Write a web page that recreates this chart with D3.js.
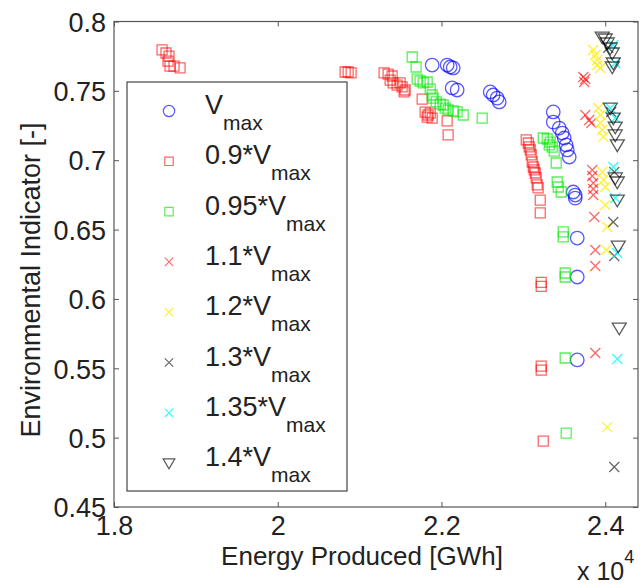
<!DOCTYPE html>
<html><head><meta charset="utf-8">
<script src="https://cdn.jsdelivr.net/npm/d3@7"></script>
<style>body{margin:0;background:#fff}svg{display:block}text{font-family:"Liberation Sans",Arial,sans-serif;fill:#222}</style>
</head><body><svg id="c" width="643" height="584"></svg>
<script>
// ---- data (x in GWh, y = environmental indicator) ----
const xTicks = [18000, 20000, 22000, 24000];
const yTicks = [0.45, 0.5, 0.55, 0.6, 0.65, 0.7, 0.75, 0.8];
const seriesNames = ["V", "0.9*V", "0.95*V", "1.1*V", "1.2*V", "1.3*V", "1.35*V", "1.4*V"];
const sVmax = [[21886,0.7686],[22069,0.7686],[22106,0.7672],[22143,0.7665],[22130,0.7521],[22191,0.7506],
  [22595,0.7492],[22631,0.7470],[22680,0.7448],[22705,0.7420],[23365,0.7348],[23365,0.7275],[23438,0.7232],
  [23475,0.7196],[23499,0.7160],[23523,0.7110],[23536,0.7074],[23560,0.7023],[23609,0.6771],[23633,0.6749],
  [23633,0.6727],[23658,0.6439],[23658,0.6158],[23658,0.5560]];
const s090 = [[18587,0.7795],[18635,0.7773],[18672,0.7751],[18660,0.7715],[18684,0.7679],[18733,0.7679],[18807,0.7665],
  [20823,0.7636],[20860,0.7636],[20896,0.7629],[21299,0.7629],[21348,0.7621],[21397,0.7607],[21373,0.7578],
  [21409,0.7557],[21458,0.7542],[21495,0.7557],[21519,0.7528],[21556,0.7506],[21544,0.7492],[21764,0.7441],
  [21800,0.7347],[21837,0.7326],[21825,0.7311],[21886,0.7304],[21862,0.7340],[22069,0.7283],[22081,0.7182],
  [23035,0.7146],[23060,0.7124],[23071,0.7096],[23084,0.7074],[23096,0.7038],[23108,0.6987],[23121,0.6951],
  [23133,0.6930],[23145,0.6908],[23157,0.6872],[23169,0.6822],[23181,0.6800],[23206,0.6713],[23206,0.6620],
  [23218,0.6120],[23218,0.6090],[23218,0.5516],[23218,0.5487],[23243,0.4975]];
const s095 = [[21642,0.7744],[21690,0.7672],[21703,0.7585],[21739,0.7571],[21776,0.7557],[21825,0.7564],[21862,0.7513],
  [21886,0.7470],[21898,0.7448],[21935,0.7420],[21984,0.7405],[22020,0.7398],[22045,0.7376],[22081,0.7362],
  [22143,0.7355],[22191,0.7348],[22265,0.7326],[22497,0.7304],
  [23243,0.7160],[23291,0.7153],[23316,0.7110],[23328,0.7131],[23352,0.7095],[23377,0.7066],[23401,0.6980],
  [23413,0.6843],[23426,0.6807],[23462,0.6771],[23487,0.6483],[23487,0.6447],[23511,0.6187],[23511,0.6158],
  [23511,0.5574],[23523,0.5033]];
const s110 = [[23731,0.7600],[23743,0.7564],[23756,0.7585],[23756,0.7326],[23804,0.7290],[23829,0.7268],
  [23841,0.6929],[23841,0.6886],[23853,0.6836],[23853,0.6792],[23853,0.6749],[23866,0.6591],[23878,0.6353],
  [23878,0.6237],[23878,0.5610]];
const s120 = [[23853,0.7795],[23878,0.7758],[23902,0.7722],[23902,0.7686],[23939,0.7665],[23915,0.7376],[23939,0.7326],
  [23939,0.7268],[23963,0.7218],[23976,0.7168],[23963,0.6915],[23976,0.6857],[24000,0.6807],[24000,0.6677],
  [24024,0.6519],[24012,0.6353],[24024,0.5076]];
const s130 = [[24037,0.7811],[24073,0.7347],[24110,0.6915],[24098,0.6554],[24110,0.6309],[24110,0.4788]];
const s135 = [[24098,0.7830],[24122,0.7701],[24061,0.7376],[24122,0.7304],[24098,0.6951],[24122,0.6727],
  [24147,0.6331],[24147,0.5567]];
const s140 = [[23963,0.7888],[24000,0.7874],[24024,0.7845],[24061,0.7809],[24086,0.7773],[24098,0.7701],[24086,0.7672],
  [24061,0.7376],[24098,0.7304],[24122,0.7239],[24122,0.7182],[24147,0.7110],[24122,0.6872],[24147,0.6843],
  [24147,0.6713],[24159,0.6381],[24171,0.5790]];

const allSeries = [sVmax, s090, s095, s110, s120, s130, s135, s140];
const colors = ["#0000ff", "#ff0000", "#00e600", "#ff0000", "#ffee00", "#000000", "#00ffff", "#000000"];
const shapes = ["circle", "square", "square", "x", "x", "x", "x", "tri"];
const opac = [0.65, 0.6, 0.65, 0.6, 0.8, 0.6, 0.8, 0.65];

// ---- layout ----
const L = 114, R = 638, T = 21.5, B = 507;
const svg = d3.select("#c");
const x = d3.scaleLinear().domain([18000, 24400]).range([L, R]);
const y = d3.scaleLinear().domain([0.45, 0.8]).range([B, T]);

function markerPath(shape, s) {
  if (shape === "square") return `M${-s},${-s}H${s}V${s}H${-s}Z`;
  if (shape === "x") return `M${-s},${-s}L${s},${s}M${-s},${s}L${s},${-s}`;
  if (shape === "tri") return `M${-s*1.4},${-s}L${s*1.4},${-s}L0,${s*1.35}Z`;
  const p = d3.path(); p.arc(0, 0, s*1.35, 0, 2*Math.PI); return p.toString();
}

// frame
svg.append("rect").attr("x", L).attr("y", T).attr("width", R - L).attr("height", B - T)
  .attr("fill", "none").attr("stroke", "#555").attr("stroke-width", 1.2);

const fmtX = d => d3.format("~g")(d / 10000);
const ax = svg.append("g").attr("transform", `translate(0,${B})`)
  .call(d3.axisBottom(x).tickValues(xTicks).tickFormat(fmtX).tickSizeInner(-5).tickSizeOuter(0).tickPadding(9));
const axTop = svg.append("g").attr("transform", `translate(0,${T})`)
  .call(d3.axisTop(x).tickValues(xTicks).tickFormat("").tickSizeInner(-5).tickSizeOuter(0));
const ay = svg.append("g").attr("transform", `translate(${L},0)`)
  .call(d3.axisLeft(y).tickValues(yTicks).tickFormat(d3.format("~g")).tickSizeInner(-5).tickSizeOuter(0).tickPadding(8));
const ayR = svg.append("g").attr("transform", `translate(${R},0)`)
  .call(d3.axisRight(y).tickValues(yTicks).tickFormat("").tickSizeInner(-5).tickSizeOuter(0));
[ax, axTop, ay, ayR].forEach(g => {
  g.select(".domain").remove();
  g.selectAll(".tick line").attr("stroke", "#555");
  g.selectAll("text").style("font-size", "27px").style("font-family", '"Liberation Sans",Arial,sans-serif').attr("fill", "#222");
});
ay.selectAll("text").attr("dy", "0.36em");

// data
const dataG = svg.append("g");
allSeries.forEach((s, i) => {
  dataG.append("g").selectAll("path").data(s).join("path")
    .attr("transform", d => `translate(${x(d[0])},${y(d[1])})`)
    .attr("d", markerPath(shapes[i], 5))
    .attr("fill", "none").attr("stroke", colors[i]).attr("stroke-opacity", opac[i]).attr("stroke-width", 1.3);
});

// legend
const lg = svg.append("g");
lg.append("rect").attr("x", 127).attr("y", 82).attr("width", 220).attr("height", 409)
  .attr("fill", "#fff").attr("stroke", "#444").attr("stroke-width", 1.2);
seriesNames.forEach((nm, i) => {
  const cy = 111 + i * 50.3;
  lg.append("path").attr("transform", `translate(169,${cy})`).attr("d", markerPath(shapes[i], 4.2))
    .attr("fill", "none").attr("stroke", colors[i]).attr("stroke-opacity", opac[i]).attr("stroke-width", 1.2);
  const t = lg.append("text").attr("x", 205).attr("y", cy + 3).style("font-size", "27px");
  t.append("tspan").text(nm);
  t.append("tspan").attr("dy", 16).style("font-size", "21px").text("max");
});

// axis labels
svg.append("text").attr("x", 362).attr("y", 565).attr("text-anchor", "middle").style("font-size", "26px")
  .text("Energy Produced [GWh]");
svg.append("text").attr("transform", "translate(40,280) rotate(-90)").attr("text-anchor", "middle").style("font-size", "27px")
  .text("Environmental Indicator [-]");
const ex = svg.append("text").attr("x", 577).attr("y", 580).style("font-size", "25px");
ex.append("tspan").text("x 10");
ex.append("tspan").attr("dy", -17).style("font-size", "18px").text("4");
</script></body></html>
